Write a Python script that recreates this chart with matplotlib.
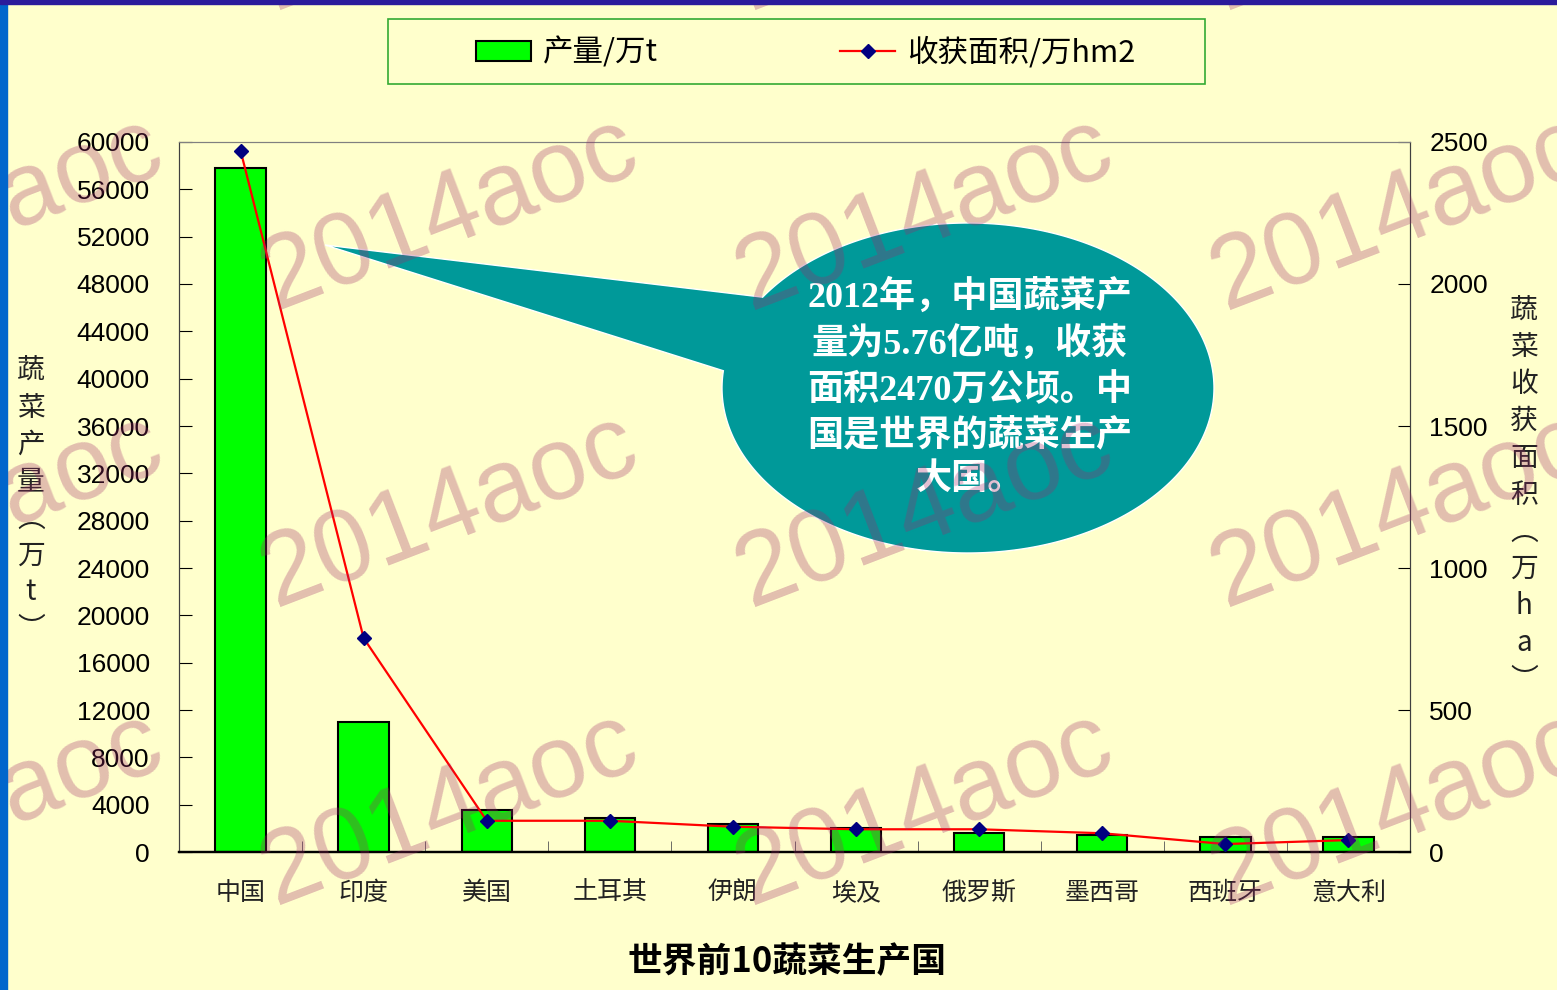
import matplotlib.pyplot as plt
import numpy as np
from matplotlib.patches import Rectangle, Polygon

plt.rcParams['font.family'] = ['Noto Sans CJK SC', 'DejaVu Sans']

# 数据
countries = ['中国', '印度', '美国', '土耳其', '伊朗', '埃及', '俄罗斯', '墨西哥', '西班牙', '意大利']
output = [57800, 11000, 3550, 2900, 2400, 2000, 1600, 1450, 1300, 1300]   # 产量/万t
area = [2470, 753, 110, 110, 89, 80, 80, 66, 28, 42]                     # 收获面积/万hm2
left_ticks = list(range(0, 60001, 4000))
right_ticks = list(range(0, 2501, 500))

W, H = 1557, 990
bg = '#FFFFCC'


def fx(x):
    return x / W


def fy(y):
    return 1 - y / H


fig = plt.figure(figsize=(W / 100, H / 100), dpi=100, facecolor=bg)
ax = fig.add_axes([fx(179), fy(852), 1231 / W, 710 / H])
ax.set_facecolor(bg)

x = np.arange(len(countries))
bars = ax.bar(x, output, width=0.41, color='#00FF00', edgecolor='black', linewidth=1.5, zorder=2)
ax.set_xlim(-0.5, len(countries) - 0.5)
ax.set_ylim(0, 60000)
ax.set_yticks(left_ticks)
ax.set_yticklabels([str(t) for t in left_ticks], family='Liberation Sans')
ax.tick_params(axis='y', direction='in', length=9, pad=21, labelsize=19)
ax.set_xticks(x)
ax.set_xticklabels(countries, fontsize=18, color='#222222')
ax.tick_params(axis='x', which='major', length=0, pad=20)
ax.set_xticks(np.arange(0.5, len(countries) - 0.5, 1), minor=True)
ax.tick_params(axis='x', which='minor', direction='in', length=8, color='#555555')

ax2 = ax.twinx()
line, = ax2.plot(x, area, color='red', linewidth=1.6, marker='D', markersize=7.5,
                 markerfacecolor='#000080', markeredgecolor='#000080', zorder=3)
ax2.set_ylim(0, 2500)
ax2.set_yticks(right_ticks)
ax2.set_yticklabels([str(t) for t in right_ticks], family='Liberation Sans')
ax2.tick_params(axis='y', direction='in', length=9, pad=14, labelsize=19)

for a in (ax, ax2):
    a.spines['top'].set_color('#808080')
    a.spines['left'].set_color('#404040')
    a.spines['right'].set_color('#404040')
    a.spines['bottom'].set_color('black')
    a.spines['bottom'].set_linewidth(1.6)

# 坐标轴标题（竖排）
fig.text(fx(31), fy(500), '\n'.join('蔬菜产量︵万t︶'), ha='center', va='center',
         fontsize=20, linespacing=1.3, color='#222222')
fig.text(fx(1524), fy(495), '\n'.join('蔬菜收获面积︵万ha︶'), ha='center', va='center',
         fontsize=20, linespacing=1.3, color='#222222')
fig.text(fx(787), fy(962), '世界前10蔬菜生产国', ha='center', va='center',
         fontsize=25, fontweight='bold', color='black')

# 图例
fig.patches.append(Rectangle((fx(388), fy(84)), 817 / W, 65 / H, transform=fig.transFigure,
                             facecolor='none', edgecolor='#33AA33', linewidth=1.2))
fig.legend([bars, line], ['产量/万t', '收获面积/万hm2'], loc='center left',
           bbox_to_anchor=(fx(476), fy(53)), ncol=2, frameon=False, fontsize=22,
           borderpad=0, borderaxespad=0, handlelength=1.8, handleheight=0.65,
           handletextpad=0.4, columnspacing=5.95)

# 标注气泡
t = np.deg2rad(np.linspace(174, 506.6, 300))
pts = np.column_stack([fx(968 + 246 * np.cos(t)), fy(388 - 165 * np.sin(t))])
pts = np.vstack([pts, [fx(325), fy(245)]])
fig.add_artist(Polygon(pts, closed=True, transform=fig.transFigure, facecolor='#009999',
                       edgecolor='white', linewidth=1, zorder=4))
fig.text(fx(970), fy(388),
         '2012年，中国蔬菜产\n量为5.76亿吨，收获\n面积2470万公顷。中\n国是世界的蔬菜生产\n大国。',
         ha='center', va='center', color='white', fontsize=26, fontweight='bold',
         family=['Liberation Serif', 'Noto Sans CJK SC'], linespacing=1.4, zorder=5)

# 水印
for wx in [-25, 450, 925, 1400]:
    for wy in [-85, 215, 512, 810]:
        fig.text(fx(wx), fy(wy), '2014aoc', rotation=21, ha='center', va='center',
                 fontsize=74, family='Liberation Sans', color='#A02A6A', alpha=0.3, zorder=10)

# 边框
fig.patches.append(Rectangle((0, 0), 7 / W, 1, transform=fig.transFigure, color='#0066CC', zorder=20))
fig.patches.append(Rectangle((0, fy(4)), 1, 4 / H, transform=fig.transFigure, color='#2B1B9B', zorder=20))

fig.savefig('out.png', dpi=100, facecolor=bg)
